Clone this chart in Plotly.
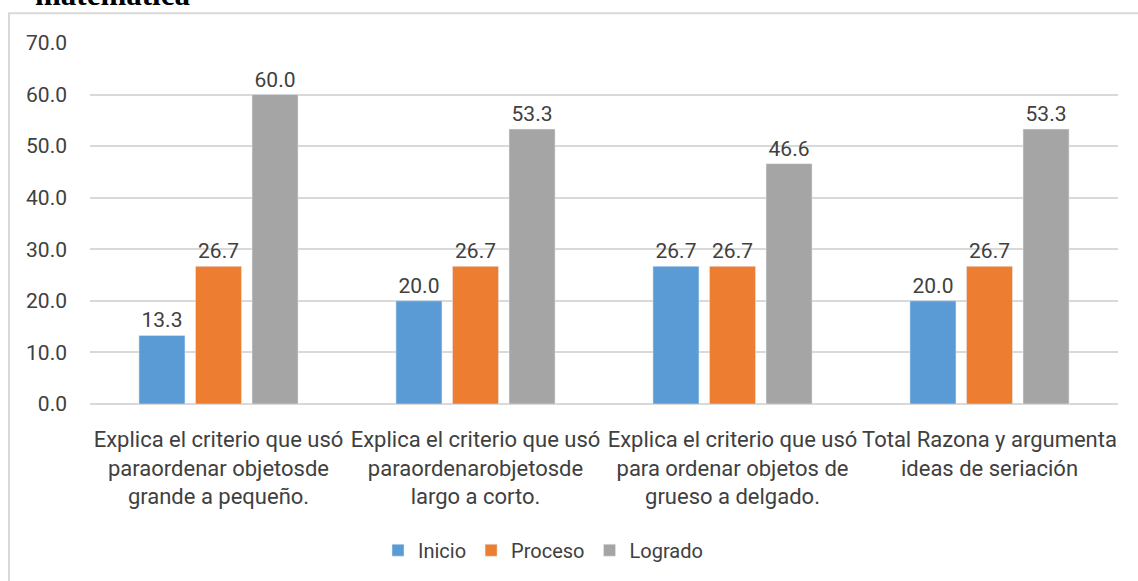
import plotly.graph_objects as go

categories = [
    "Explica el criterio que usó<br>paraordenar objetosde<br>grande a pequeño.",
    "Explica el criterio que usó<br>paraordenarobjetosde<br>largo a corto.",
    "Explica el criterio que usó<br>para ordenar objetos de<br>grueso a delgado.",
    "Total Razona y argumenta<br>ideas de seriación",
]
inicio = [13.3, 20.0, 26.7, 20.0]
proceso = [26.7, 26.7, 26.7, 26.7]
logrado = [60.0, 53.3, 46.6, 53.3]
y_ticks = [0, 10, 20, 30, 40, 50, 60, 70]

series = [
    ("Inicio", inicio, "#5B9BD5"),
    ("Proceso", proceso, "#ED7D31"),
    ("Logrado", logrado, "#A5A5A5"),
]

FONT = "Roboto"
TXT = "#404040"

fig = go.Figure()
for name, vals, color in series:
    fig.add_trace(go.Bar(
        name=name, x=categories, y=vals, marker_color=color,
        text=[f"{v:.1f}" for v in vals], textposition="outside",
        textfont=dict(family=FONT, size=21, color=TXT),
        cliponaxis=False,
    ))

W, H = 1138, 581
L, R, T, B = 90, 20, 43, 175
pw, ph = W - L - R, H - T - B

def px_x(x):
    return (x - L) / pw

def px_y(y):
    return 1 + (T - y) / ph

fig.update_layout(
    width=W, height=H,
    margin=dict(l=L, r=R, t=T, b=B),
    paper_bgcolor="white", plot_bgcolor="white",
    barmode="group", bargap=0.34, bargroupgap=0.186,
    font=dict(family=FONT, color=TXT),
    showlegend=True,
    legend=dict(orientation="h", x=px_x(543), xanchor="center",
                y=px_y(553), yanchor="middle",
                font=dict(family=FONT, size=20, color=TXT),
                itemwidth=30, traceorder="normal"),
    xaxis=dict(tickfont=dict(family=FONT, size=22, color=TXT),
               showline=False, ticks="", ticklabelstandoff=20),
    yaxis=dict(range=[0, 70], tickvals=y_ticks, tickformat=".1f",
               tickfont=dict(family=FONT, size=21, color=TXT),
               showgrid=True, gridcolor="#d9d9d9", gridwidth=1.5,
               zeroline=True, zerolinecolor="#d9d9d9", zerolinewidth=1.5,
               showline=False, ticks="", ticklabelstandoff=22),
)

# Chart frame
fig.add_shape(type="rect", xref="paper", yref="paper",
              x0=px_x(9), x1=px_x(1150), y0=px_y(600), y1=px_y(13),
              line=dict(color="#d9d9d9", width=2), fillcolor="rgba(0,0,0,0)",
              layer="below")

# Heading text above the frame
fig.add_annotation(text="<b>matemática</b>", xref="paper", yref="paper",
                   x=px_x(33), y=px_y(-6), xanchor="left", yanchor="middle",
                   showarrow=False,
                   font=dict(family="Liberation Serif", size=31, color="black"))

fig.write_html("out.html")
